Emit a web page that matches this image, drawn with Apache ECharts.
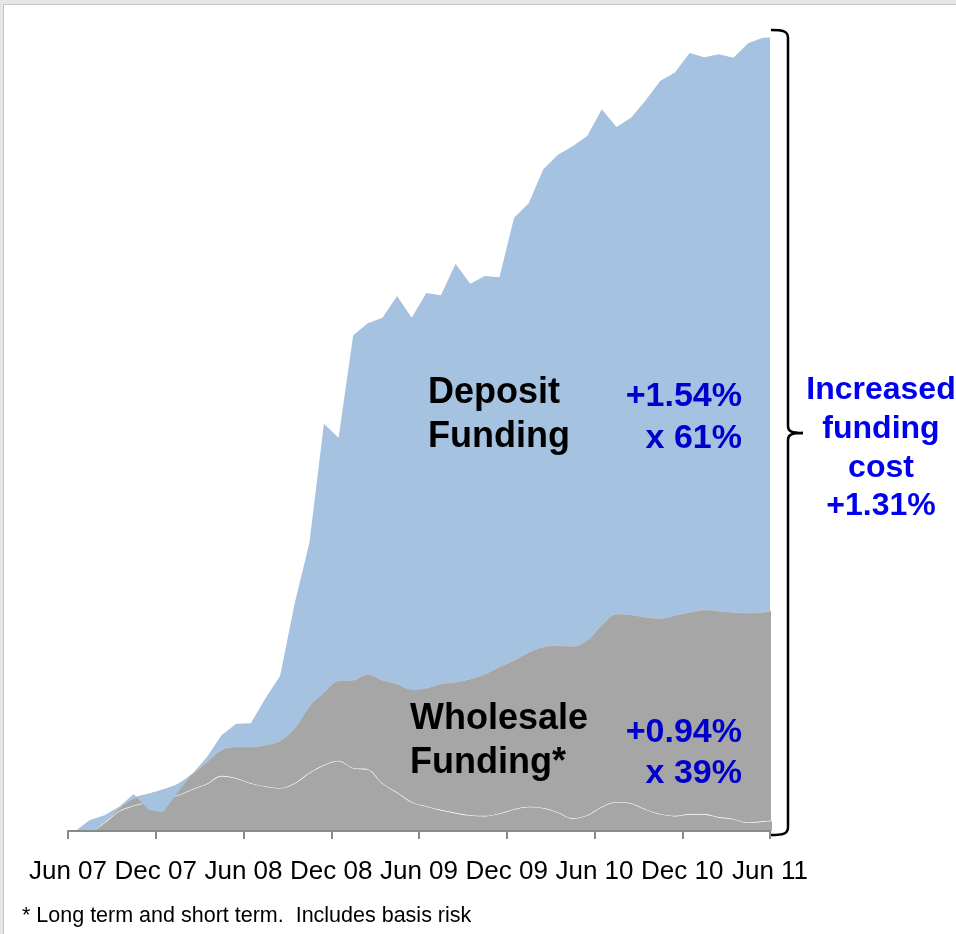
<!DOCTYPE html>
<html>
<head>
<meta charset="utf-8">
<script src="https://cdn.jsdelivr.net/npm/echarts@6/dist/echarts.min.js"></script>
<style>
  html, body { margin: 0; padding: 0; background: #ffffff; }
  #chart { width: 956px; height: 934px; }
</style>
</head>
<body>
<div id="chart"></div>
<script>
// Tick labels on the time axis (every 6 months from Jun 07)
const tickLabels = ['Jun 07', 'Dec 07', 'Jun 08', 'Dec 08', 'Jun 09', 'Dec 09', 'Jun 10', 'Dec 10', 'Jun 11'];

// Observation positions, in months since Jun 07 (monthly observations)
const obsMonth = [0.5, 1.5, 2.5, 3.5, 4.5, 5.5, 6.5, 7.5, 8.5, 9.5,
  10.5, 11.5, 12.5, 13.5, 14.5, 15.5, 16.5, 17.5, 18.5, 19.5,
  20.5, 21.5, 22.5, 23.5, 24.5, 25.5, 26.5, 27.5, 28.5, 29.5,
  30.5, 31.5, 32.5, 33.5, 34.5, 35.5, 36.5, 37.5, 38.5, 39.5,
  40.5, 41.5, 42.5, 43.5, 44.5, 45.5, 46.5, 47.5, 48.2];

// Total increase in funding cost (%) (top of the blue area)
const totalCost = [0.000, 0.018, 0.026, 0.040, 0.061, 0.035, 0.031, 0.064, 0.094, 0.122,
  0.158, 0.177, 0.178, 0.219, 0.256, 0.376, 0.475, 0.672, 0.649, 0.818,
  0.838, 0.847, 0.883, 0.847, 0.888, 0.884, 0.936, 0.903, 0.916, 0.914,
  1.012, 1.036, 1.092, 1.116, 1.130, 1.147, 1.191, 1.162, 1.177, 1.206,
  1.238, 1.252, 1.284, 1.277, 1.282, 1.276, 1.300, 1.309, 1.310];

// Wholesale funding contribution (%) (top of the grey area)
const wholesaleCost = [0.000, 0.000, 0.015, 0.038, 0.054, 0.061, 0.068, 0.077, 0.094, 0.114,
  0.134, 0.139, 0.139, 0.142, 0.149, 0.170, 0.206, 0.229, 0.248, 0.249,
  0.259, 0.249, 0.243, 0.234, 0.236, 0.243, 0.246, 0.251, 0.259, 0.271,
  0.282, 0.295, 0.304, 0.306, 0.305, 0.315, 0.340, 0.358, 0.357, 0.353,
  0.351, 0.356, 0.361, 0.365, 0.363, 0.361, 0.360, 0.361, 0.364];

// Long-term wholesale component (%) (white line inside the grey area)
const longTermCost = [0.000, 0.000, 0.014, 0.033, 0.042, 0.048, 0.054, 0.059, 0.069, 0.078,
  0.091, 0.087, 0.079, 0.074, 0.071, 0.079, 0.096, 0.109, 0.116, 0.104,
  0.102, 0.079, 0.064, 0.048, 0.041, 0.035, 0.030, 0.026, 0.025, 0.029,
  0.036, 0.040, 0.038, 0.031, 0.021, 0.026, 0.040, 0.048, 0.046, 0.036,
  0.028, 0.025, 0.028, 0.028, 0.023, 0.020, 0.014, 0.016, 0.017];

// Stacked components built from the arrays above.
// Items are [value, month] so that the value column is the stacked one.
const longTermData = obsMonth.map((m, i) => [longTermCost[i], m]);
const shortTermData = obsMonth.map((m, i) => [+(wholesaleCost[i] - longTermCost[i]).toFixed(4), m]);
const depositData = obsMonth.map((m, i) => [+(totalCost[i] - wholesaleCost[i]).toFixed(4), m]);

const FONT = '"Liberation Sans", Arial, Helvetica, sans-serif';
const GREY = '#a6a6a6';
const BLUE = '#a5c2e0';

const chart = echarts.init(document.getElementById('chart'), null, { renderer: 'canvas' });

const braceStyle = { stroke: '#000000', lineWidth: 2.5, fill: null };
const commonSeries = {
  type: 'line',
  stack: 'cost',
  stackStrategy: 'all',
  symbol: 'none',
  clip: false,
  encode: { x: 1, y: 0 }
};

chart.setOption({
  animation: false,
  backgroundColor: '#ffffff',
  grid: { left: 68, right: 186, top: 13, bottom: 103, containLabel: false },
  xAxis: {
    type: 'value',
    min: 0,
    max: 48,
    interval: 6,
    z: 10,
    splitLine: { show: false },
    axisLine: { show: true, lineStyle: { color: '#8a8a8a', width: 2 } },
    axisTick: { show: true, length: 8, lineStyle: { color: '#8a8a8a', width: 2 } },
    axisLabel: {
      show: true,
      margin: 28,
      color: '#000000',
      fontFamily: FONT,
      fontSize: 26,
      showMinLabel: true,
      showMaxLabel: true,
      formatter: v => tickLabels[Math.round(v / 6)] || ''
    }
  },
  yAxis: {
    type: 'value',
    min: 0,
    max: 1.35,
    show: false,
    splitLine: { show: false }
  },
  series: [
    Object.assign({}, commonSeries, {
      name: 'Wholesale long term',
      smooth: 0.35,
      z: 2,
      lineStyle: { color: '#ffffff', width: 1.2 },
      areaStyle: { color: GREY, opacity: 1 },
      data: longTermData
    }),
    Object.assign({}, commonSeries, {
      name: 'Wholesale short term',
      smooth: 0.35,
      z: 3,
      lineStyle: { color: '#c2c2c2', width: 1 },
      areaStyle: { color: GREY, opacity: 1 },
      data: shortTermData
    }),
    Object.assign({}, commonSeries, {
      name: 'Deposit',
      smooth: false,
      z: 4,
      lineStyle: { width: 0, color: BLUE },
      areaStyle: { color: BLUE, opacity: 1 },
      data: depositData
    })
  ],
  graphic: [
    // frame edges of the original slide capture
    { type: 'rect', z: 100, shape: { x: 0, y: 0, width: 956, height: 4 }, style: { fill: '#e6e6e6' } },
    { type: 'rect', z: 100, shape: { x: 0, y: 0, width: 3, height: 934 }, style: { fill: '#e6e6e6' } },
    { type: 'line', z: 101, shape: { x1: 3, y1: 4.5, x2: 956, y2: 4.5 }, style: { stroke: '#c4c4c4', lineWidth: 1 } },
    { type: 'line', z: 101, shape: { x1: 3.5, y1: 4, x2: 3.5, y2: 934 }, style: { stroke: '#c4c4c4', lineWidth: 1 } },
    // right-hand brace
    { type: 'bezierCurve', z: 100, shape: { x1: 771, y1: 30, cpx1: 783, cpy1: 30, cpx2: 788, cpy2: 31, x2: 788, y2: 38 }, style: braceStyle },
    { type: 'line', z: 100, shape: { x1: 788, y1: 38, x2: 788, y2: 426 }, style: braceStyle },
    { type: 'bezierCurve', z: 100, shape: { x1: 788, y1: 426, cpx1: 788, cpy1: 431, cpx2: 791, cpy2: 433, x2: 803, y2: 433 }, style: braceStyle },
    { type: 'bezierCurve', z: 100, shape: { x1: 803, y1: 433, cpx1: 791, cpy1: 433, cpx2: 788, cpy2: 435, x2: 788, y2: 440 }, style: braceStyle },
    { type: 'line', z: 100, shape: { x1: 788, y1: 440, x2: 788, y2: 827 }, style: braceStyle },
    { type: 'bezierCurve', z: 100, shape: { x1: 788, y1: 827, cpx1: 788, cpy1: 834, cpx2: 783, cpy2: 835, x2: 771, y2: 835 }, style: braceStyle },
    // in-chart labels
    {
      type: 'text', z: 100, x: 428, y: 371,
      style: { text: 'Deposit\nFunding', font: 'bold 36px ' + FONT, fill: '#000000', lineHeight: 44, align: 'left', verticalAlign: 'top' }
    },
    {
      type: 'text', z: 100, x: 742, y: 376,
      style: { text: '+1.54%\nx 61%', font: 'bold 34px ' + FONT, fill: '#0000cc', lineHeight: 42, align: 'right', verticalAlign: 'top' }
    },
    {
      type: 'text', z: 100, x: 410, y: 697,
      style: { text: 'Wholesale\nFunding*', font: 'bold 36px ' + FONT, fill: '#000000', lineHeight: 44, align: 'left', verticalAlign: 'top' }
    },
    {
      type: 'text', z: 100, x: 742, y: 712,
      style: { text: '+0.94%\nx 39%', font: 'bold 34px ' + FONT, fill: '#0000cc', lineHeight: 41, align: 'right', verticalAlign: 'top' }
    },
    {
      type: 'text', z: 100, x: 881, y: 371,
      style: { text: 'Increased\nfunding\ncost\n+1.31%', font: 'bold 32px ' + FONT, fill: '#0000f0', lineHeight: 38.7, align: 'center', verticalAlign: 'top' }
    },
    {
      type: 'text', z: 100, x: 22, y: 905,
      style: { text: '* Long term and short term.  Includes basis risk', font: '21.5px ' + FONT, fill: '#000000', align: 'left', verticalAlign: 'top' }
    }
  ]
});
</script>
</body>
</html>
